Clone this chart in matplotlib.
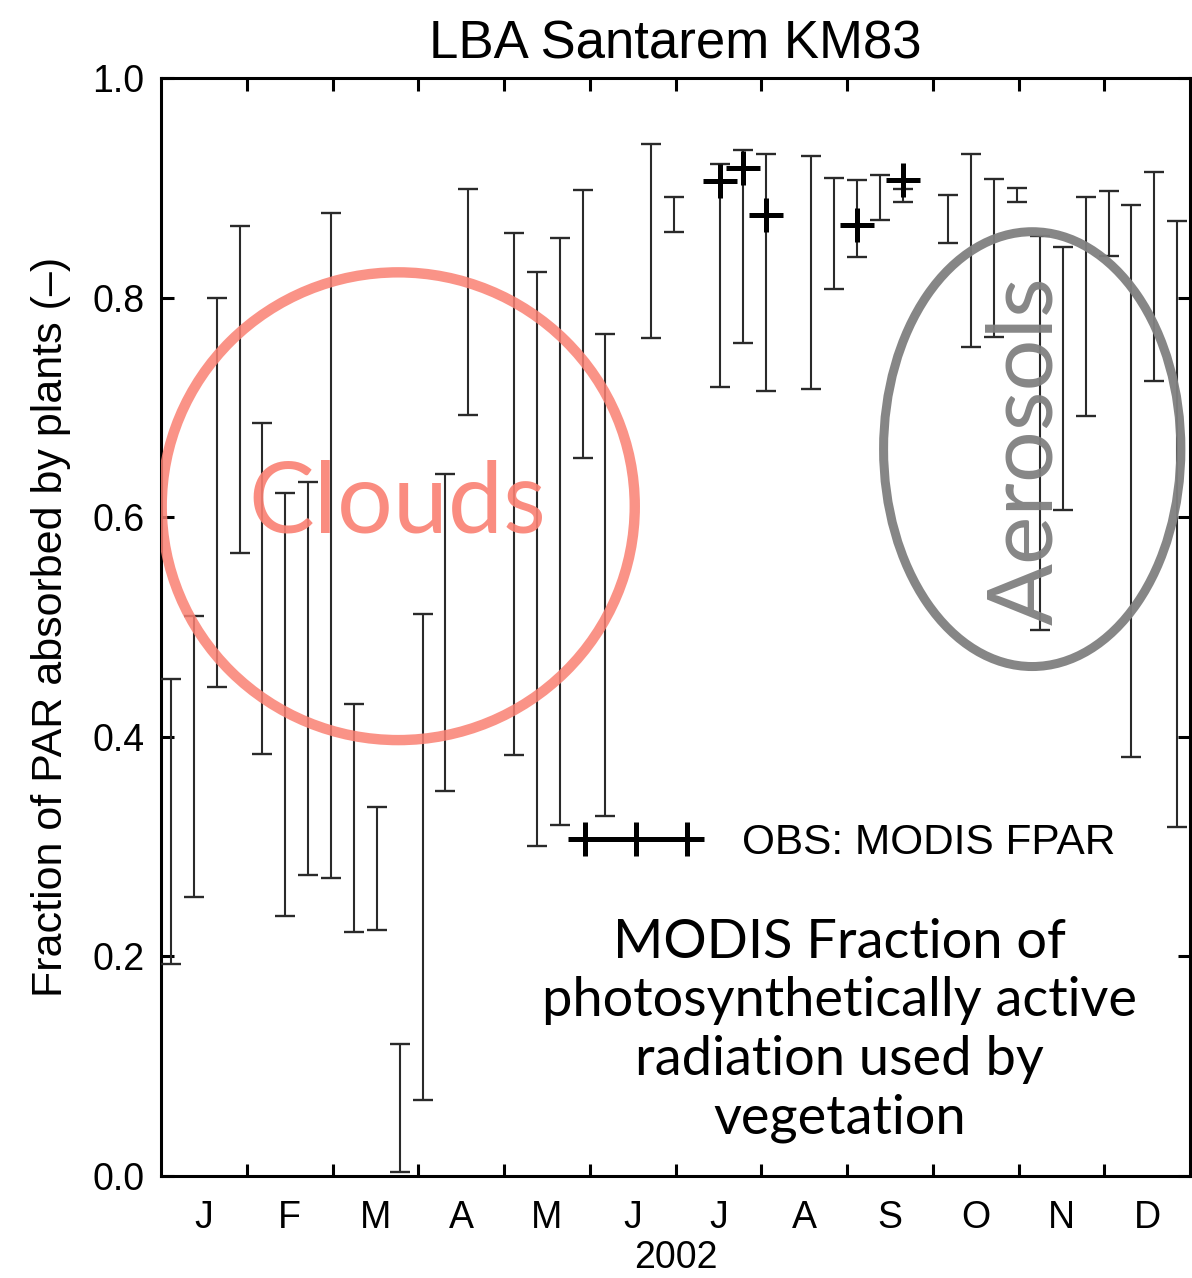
import matplotlib
matplotlib.use("Agg")
import matplotlib.pyplot as plt
from matplotlib.lines import Line2D
from matplotlib.patches import Ellipse
import numpy as np

# MODIS 8-day composites, 2002 (start day of year of each composite)
composite_doy = [1, 9, 17, 25, 33, 41, 49, 57, 65, 73, 81, 89, 97, 105,
                 121, 129, 137, 145, 153,
                 169, 177,
                 193, 201, 209,
                 225, 233, 241, 249, 257,
                 273, 281, 289, 297, 305, 313, 321, 329, 337, 345, 353]
fpar_low = [0.193, 0.254, 0.445, 0.567, 0.384, 0.237, 0.274, 0.271, 0.222, 0.224, 0.004, 0.069, 0.351, 0.693,
            0.383, 0.301, 0.320, 0.654, 0.328,
            0.763, 0.860,
            0.719, 0.759, 0.715,
            0.717, 0.808, 0.837, 0.871, 0.887,
            0.850, 0.755, 0.764, 0.887, 0.497, 0.607, 0.692, 0.838, 0.382, 0.724, 0.318]
fpar_high = [0.453, 0.510, 0.800, 0.865, 0.686, 0.622, 0.632, 0.877, 0.430, 0.336, 0.120, 0.512, 0.639, 0.899,
             0.859, 0.823, 0.854, 0.898, 0.767,
             0.940, 0.892,
             0.922, 0.934, 0.931,
             0.929, 0.909, 0.907, 0.912, 0.899,
             0.893, 0.931, 0.908, 0.900, 0.856, 0.846, 0.892, 0.897, 0.884, 0.914, 0.870]

# MODIS FPAR observations (start day of composite, value)
obs_doy = [193, 201, 209, 241, 257]
obs_fpar = [0.906, 0.918, 0.875, 0.866, 0.907]

month_labels = ["J", "F", "M", "A", "M", "J", "J", "A", "S", "O", "N", "D"]
y_ticks = [0.0, 0.2, 0.4, 0.6, 0.8, 1.0]

narrow = ["Liberation Sans Narrow", "Liberation Sans", "DejaVu Sans"]
plain = ["Liberation Sans", "DejaVu Sans"]
round_font = ["Lato", "DejaVu Sans"]

fig = plt.figure(figsize=(11.92, 12.78), dpi=100)
ax = fig.add_axes([161 / 1192, 102 / 1278, 1029 / 1192, 1098 / 1278])

x0, x1 = -2.5, 357.5
ax.set_xlim(x0, x1)
ax.set_ylim(0.0, 1.0)

# FPAR range per composite
x = np.array(composite_doy, dtype=float)
lo = np.array(fpar_low)
hi = np.array(fpar_high)
mid = (lo + hi) / 2
ax.errorbar(x, mid, yerr=[mid - lo, hi - mid], fmt="none", ecolor="#2a2a2a",
            elinewidth=1.5, capsize=7.5, capthick=1.7, zorder=3)

# observed MODIS FPAR
ax.plot(obs_doy, obs_fpar, linestyle="none", marker="+", color="black",
        markersize=24, markeredgewidth=3.6, zorder=4)

# axes styling
for sp in ax.spines.values():
    sp.set_linewidth(2.2)
month_len = (x1 - x0) / 12
ax.set_xticks([x0 + month_len * i for i in range(1, 12)])
ax.set_xticklabels([])
ax.set_xticks([x0 + month_len * (i + 0.5) for i in range(12)], minor=True)
ax.set_xticklabels(month_labels, minor=True, fontsize=27, family=narrow)
ax.tick_params(axis="x", which="major", direction="in", length=9, width=2.2,
               top=True, bottom=True)
ax.tick_params(axis="x", which="minor", length=0, pad=17)
ax.set_yticks(y_ticks)
ax.set_yticklabels([f"{v:.1f}" for v in y_ticks], fontsize=27, family=narrow)
ax.tick_params(axis="y", direction="in", length=9, width=2.2, left=True,
               right=True, pad=12)

ax.set_xlabel("2002", fontsize=27, family=narrow, labelpad=3)
ax.set_ylabel("Fraction of PAR absorbed by plants (\u2013)", fontsize=31,
              family=plain, labelpad=15)
ax.set_title("LBA Santarem KM83", fontsize=38, family=narrow, pad=14)

# legend
handle = Line2D([], [], color="black", marker="+", markersize=24,
                markeredgewidth=3.6, linewidth=3.6)
ax.legend([handle], ["OBS: MODIS FPAR"], numpoints=3, frameon=False,
          handlelength=3.0, handletextpad=1.0, loc="center left",
          borderaxespad=0, borderpad=0,
          bbox_to_anchor=(0.400, 0.303), prop={"family": plain, "size": 30.5})

# annotations
ax.add_patch(Ellipse((80.5, 0.610), 165.5, 0.426, fill=False,
                     edgecolor="#fa8072", alpha=0.85, linewidth=7.5, zorder=5))
ax.text(80.3, 0.612, "Clouds", color="#fa8072", alpha=0.9, fontsize=71,
        family=round_font, ha="center", va="center", zorder=5)

ax.add_patch(Ellipse((302.3, 0.662), 104, 0.396, fill=False,
                     edgecolor="#808080", alpha=0.95, linewidth=6.5, zorder=5))
ax.text(300.3, 0.661, "Aerosols", color="#808080", alpha=0.95, fontsize=66,
        family=round_font, rotation=90, ha="center", va="center", zorder=5)

ax.text(235, 0.1325,
        "MODIS Fraction of\nphotosynthetically active\nradiation used by\nvegetation",
        fontsize=39, family=round_font, ha="center", va="center",
        linespacing=1.24, zorder=5)

fig.savefig("out.png", dpi=100)
